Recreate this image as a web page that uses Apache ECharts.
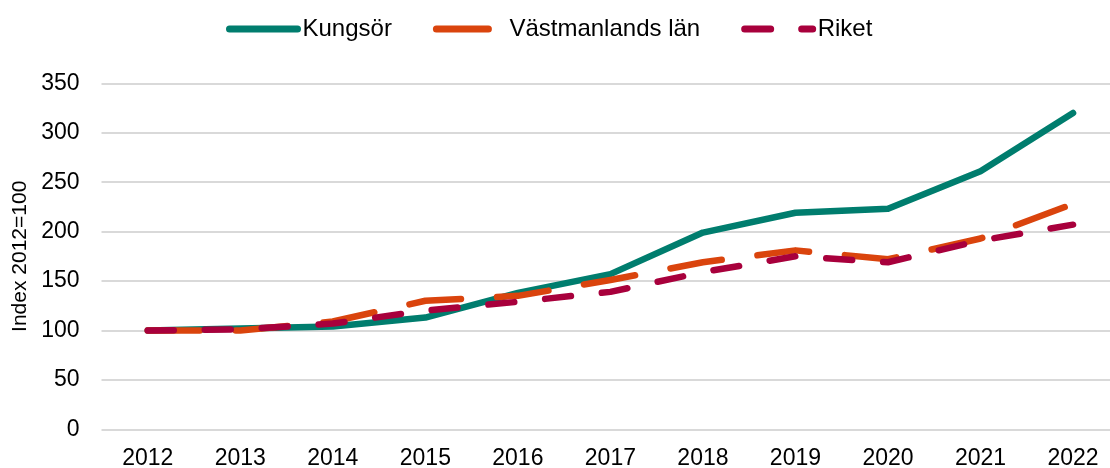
<!DOCTYPE html>
<html>
<head>
    <meta charset="utf-8">
    <script src="https://cdn.jsdelivr.net/npm/echarts@6/dist/echarts.min.js"></script>
</head>
<body style="margin:0;">
    <div id="main" style="width:1110px;height:468px;"></div>

<script type="text/javascript">
    // data
    var years = ['2012', '2013', '2014', '2015', '2016', '2017', '2018', '2019', '2020', '2021', '2022'];
    var kungsor = [100, 102, 104, 113, 138, 157, 199, 219, 223, 261, 320];
    var vastmanland = [100, 100, 109, 130, 135, 151, 169, 181, 172, 193, 228];
    var riket = [100, 101, 107, 120, 129, 139, 159, 175, 169, 191, 207];

    var myChart = echarts.init(document.getElementById('main'));

    var option = {
        backgroundColor: '#fff',
        animation: false,
        textStyle: {
            fontFamily: 'Liberation Sans, Arial, sans-serif'
        },
        legend: {
            left: 226,
            top: 17,
            padding: 0,
            itemWidth: 68,
            itemHeight: 14,
            itemGap: 41,
            itemStyle: { opacity: 0 },
            lineStyle: { width: 7, cap: 'round' },
            textStyle: {
                fontSize: 24,
                color: '#000'
            },
            data: ['Kungsör', 'Västmanlands län', 'Riket']
        },
        grid: {
            left: 101.5,
            right: -9.3,
            top: 83.3,
            bottom: 38.7,
            outerBoundsMode: 'none'
        },
        xAxis: {
            type: 'category',
            data: years,
            boundaryGap: true,
            axisLine: { show: false },
            axisTick: { show: false },
            axisLabel: {
                fontSize: 23,
                color: '#000',
                margin: 18
            }
        },
        yAxis: {
            type: 'value',
            min: 0,
            max: 350,
            interval: 50,
            name: 'Index 2012=100',
            nameLocation: 'middle',
            nameGap: 71,
            nameTextStyle: {
                fontSize: 21,
                color: '#000'
            },
            axisLabel: {
                fontSize: 23,
                color: '#000',
                margin: 22
            },
            splitLine: {
                lineStyle: { color: '#d9d9d9', width: 2 }
            }
        },
        series: [
            {
                name: 'Kungsör',
                type: 'line',
                symbol: 'none',
                data: kungsor,
                color: '#007d6e',
                lineStyle: { width: 6.5, cap: 'round', join: 'round' }
            },
            {
                name: 'Västmanlands län',
                type: 'line',
                symbol: 'none',
                data: vastmanland,
                color: '#da440d',
                lineStyle: { width: 6.5, type: [52, 36], cap: 'round', join: 'round' }
            },
            {
                name: 'Riket',
                type: 'line',
                symbol: 'none',
                data: riket,
                color: '#a8003c',
                lineStyle: { width: 6.5, type: [26, 31], cap: 'round', join: 'round' }
            }
        ]
    };

    myChart.setOption(option);
</script>
</body>
</html>
